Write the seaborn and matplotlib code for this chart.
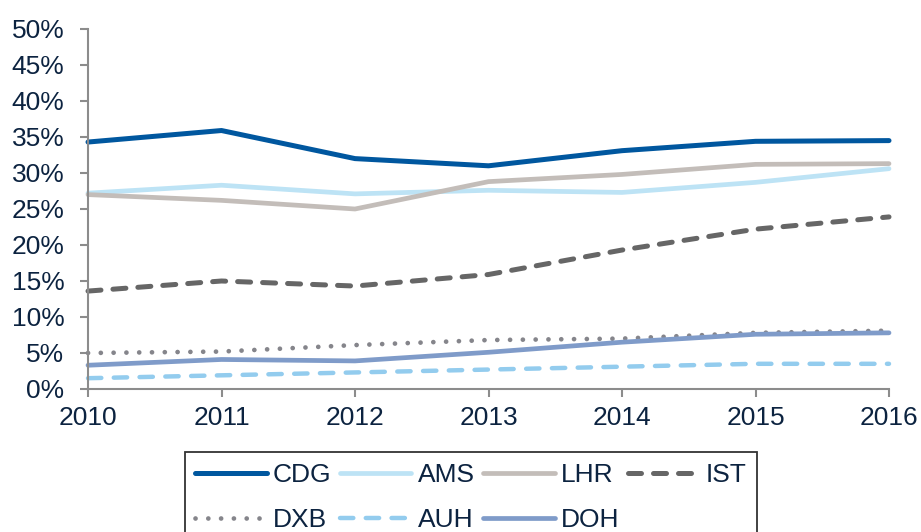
import numpy as np
import pandas as pd
import matplotlib
matplotlib.use("Agg")
import matplotlib.pyplot as plt
import seaborn as sns

years = [2010, 2011, 2012, 2013, 2014, 2015, 2016]

cdg = [34.3, 35.9, 32.0, 31.0, 33.1, 34.4, 34.5]
ams = [27.2, 28.3, 27.1, 27.6, 27.3, 28.7, 30.6]
lhr = [27.0, 26.2, 25.0, 28.8, 29.8, 31.2, 31.3]
ist = [13.6, 15.0, 14.3, 15.9, 19.3, 22.2, 23.9]
dxb = [5.0, 5.2, 6.1, 6.8, 7.0, 7.8, 8.1]
auh = [1.5, 1.9, 2.3, 2.7, 3.1, 3.5, 3.5]
doh = [3.3, 4.1, 3.9, 5.1, 6.5, 7.6, 7.8]

series = ["CDG", "AMS", "LHR", "IST", "DXB", "AUH", "DOH"]
values = [cdg, ams, lhr, ist, dxb, auh, doh]

colors = {"CDG": "#00579F", "AMS": "#BDE3F5", "LHR": "#C3BDB9", "IST": "#666666",
          "DXB": "#85858B", "AUH": "#93CCEE", "DOH": "#7F9BC9"}
widths = {"CDG": 3.6, "AMS": 3.4, "LHR": 3.4, "IST": 3.6,
          "DXB": 3.4, "AUH": 3.2, "DOH": 3.4}
styles = {"CDG": "-", "AMS": "-", "LHR": "-", "IST": (0, (2.6, 2.4)),
          "DXB": (0, (0.01, 2.7)), "AUH": (0, (3.0, 2.8)), "DOH": "-"}

text_color = "#0C2340"
axis_color = "#8C8C8C"
fs = 19

sns.set_theme(style="white")
plt.rcParams["font.family"] = ["Liberation Sans", "DejaVu Sans"]

fig = plt.figure(figsize=(9.21, 5.32), dpi=100)
ax = fig.add_axes([88 / 921, 1 - 389 / 532, (889 - 88) / 921, (389 - 29) / 532])

handles = {}
for name, vals in zip(series, values):
    df = pd.DataFrame({"year": years, "share": np.array(vals) / 100})
    sns.lineplot(data=df, x="year", y="share", ax=ax, color=colors[name],
                 linewidth=widths[name], linestyle=styles[name], label=name,
                 solid_capstyle="round", dash_capstyle="round", clip_on=False)
    handles[name] = ax.get_lines()[-1]

ax.set_xlim(2010, 2016)
ax.set_ylim(0, 0.5)
ax.set_xticks(years)
ax.set_xticklabels([str(y) for y in years])
ax.set_yticks(np.arange(0, 0.51, 0.05))
ax.set_yticklabels([f"{int(round(v * 100))}%" for v in np.arange(0, 0.51, 0.05)])
ax.set_xlabel("")
ax.set_ylabel("")

sns.despine(ax=ax)
for sp in ["left", "bottom"]:
    ax.spines[sp].set_color(axis_color)
    ax.spines[sp].set_linewidth(1.5)
ax.tick_params(axis="both", which="both", direction="out", length=6, width=1.5,
               color=axis_color, labelsize=fs, labelcolor=text_color)
ax.tick_params(axis="y", pad=11, left=True)
ax.tick_params(axis="x", pad=6, bottom=True)

ax.get_legend().remove()
order = ["CDG", "DXB", "AMS", "AUH", "LHR", "DOH", "IST"]
leg = fig.legend([handles[n] for n in order], order, ncol=4,
                 loc="upper left", bbox_to_anchor=(184.7 / 921, 1 - 452.3 / 532),
                 frameon=True, fancybox=False, fontsize=fs, handlelength=2.7,
                 handletextpad=0.23, columnspacing=0.34, labelspacing=0.8,
                 borderpad=0.4, borderaxespad=0)
leg.get_frame().set_edgecolor("black")
leg.get_frame().set_linewidth(1.3)
for t in leg.get_texts():
    t.set_color(text_color)

fig.savefig("out.png", dpi=100)
